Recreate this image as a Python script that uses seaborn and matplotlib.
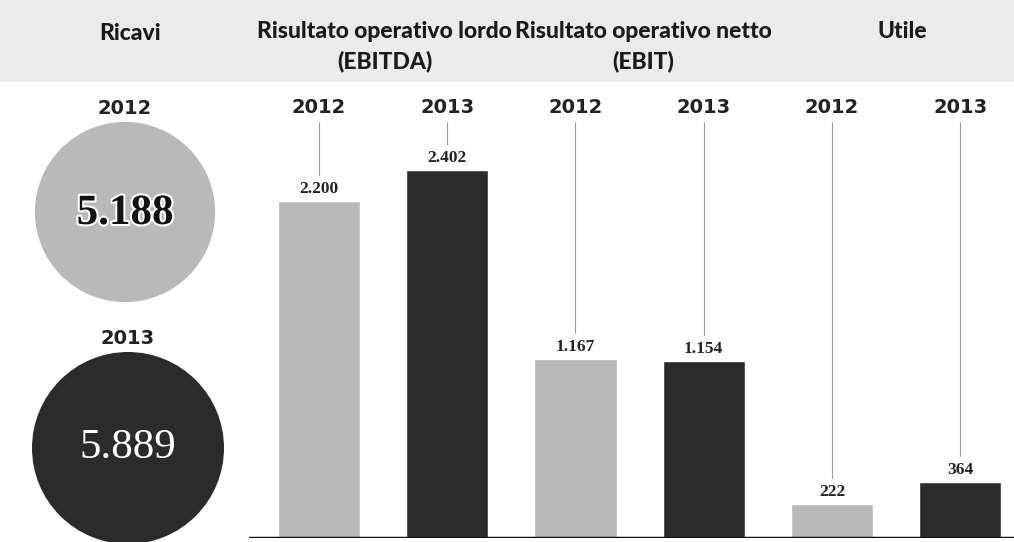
import matplotlib
matplotlib.use("Agg")
import matplotlib.pyplot as plt
import matplotlib.patheffects as pe
from matplotlib.patches import Circle, Rectangle
import seaborn as sns
import pandas as pd
import numpy as np

# ---- data ----
sections = ["Risultato operativo lordo\n(EBITDA)", "Risultato operativo netto\n(EBIT)", "Utile"]
years = ["2012", "2013"]
ebitda = [2200, 2402]
ebit = [1167, 1154]
utile = [222, 364]
ricavi = [5188, 5889]
value_labels = ["2.200", "2.402", "1.167", "1.154", "222", "364"]
ricavi_labels = ["5.188", "5.889"]

sns.set_theme(style="white")
plt.rcParams["font.family"] = ["DejaVu Sans"]

W, H = 1014, 542
fig = plt.figure(figsize=(W / 100, H / 100), dpi=100)
fig.patch.set_facecolor("white")

# header band
fig.patches.append(Rectangle((0, 1 - 82 / H), 1, 82 / H, transform=fig.transFigure,
                             facecolor="#ebebeb", edgecolor="none", zorder=-5))

light, dark = "#b9b9b9", "#2b2b2b"
title_font = dict(family=["Lato", "DejaVu Sans"], fontweight="black", fontsize=16.5,
                  color="#1a1a1a")
year_font = dict(fontsize=14, fontweight="bold", color="#222222")

# ---- bar chart ----
vals = ebitda + ebit + utile
df = pd.DataFrame({
    "pos": [f"{s}-{y}" for s in range(3) for y in years],
    "val": vals,
    "year": years * 3,
})
ax_left = 248.5 / W
ax = fig.add_axes([ax_left, 4 / H, 1 - ax_left, 538 / H])
ax.set_facecolor("none")
sns.barplot(data=df, x="pos", y="val", hue="year", palette={"2012": light, "2013": dark},
            dodge=False, width=0.64, ax=ax, legend=False, saturation=1)
ax.set_xlim(-0.55, 5.42)
ymax = 538 / 0.153
ax.set_ylim(0, ymax)
ax.axis("off")
ax.axhline(0, color="#111111", lw=2.5, zorder=5)

px = ymax / 538  # data units per pixel
line_top = ymax - 122 * px
for i, (v, lab) in enumerate(zip(vals, value_labels)):
    ax.text(i, v + 4 * px, lab, ha="center", va="bottom", fontsize=12.5,
            family="Liberation Serif", fontweight="bold", color="#222222")
    ax.plot([i, i], [line_top, v + 26 * px], color="#9a9a9a", lw=0.8)
    ax.text(i, ymax - 107 * px, years[i % 2], ha="center", va="center", **year_font)

# section titles
sec_x = [0.51, 2.53, 4.55]
for sx, name in zip(sec_x, sections):
    ax.text(sx, ymax - 21 * px, name, ha="center", va="top", linespacing=1.45,
            zorder=10, **title_font)

# ---- revenue circles ----
axc = fig.add_axes([0, 0, ax_left, 1])
axc.set_facecolor("none")
axc.set_xlim(0, 248.5)
axc.set_ylim(H, 0)
axc.set_aspect("equal", adjustable="box", anchor="SW")
axc.axis("off")
k = 96 / np.sqrt(max(ricavi))
centers = [(125, 212), (128, 448)]
colors = [light, dark]
for (cx, cy), r, c, lab, yr in zip(centers, ricavi, colors, ricavi_labels, years):
    rad = k * np.sqrt(r)
    axc.add_patch(Circle((cx, cy), rad, facecolor=c, edgecolor="none"))
    if c == light:
        axc.text(cx, cy + 2, lab, ha="center", va="center", fontsize=31, family="Liberation Serif",
                 fontweight="bold", color="#111111",
                 path_effects=[pe.withStroke(linewidth=3, foreground="white")])
    else:
        axc.text(cx, cy, lab, ha="center", va="center", fontsize=31, family="Liberation Serif",
                 color="white")
    axc.text(cx, cy - rad - 13, yr, ha="center", va="center", **year_font)
axc.text(130, 33, "Ricavi", ha="center", va="center", **title_font)

fig.savefig("out.png", dpi=100)
